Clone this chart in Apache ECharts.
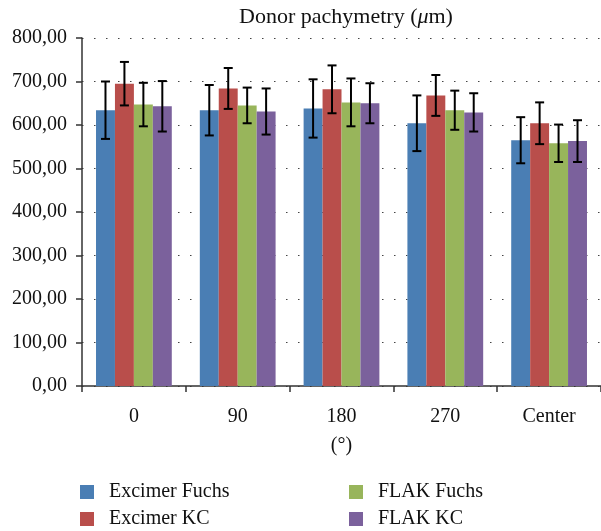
<!DOCTYPE html>
<html><head><meta charset="utf-8">
<script src="https://cdn.jsdelivr.net/npm/echarts@6/dist/echarts.min.js"></script>
<style>html,body{margin:0;padding:0;background:#fff}#c{width:601px;height:531px}</style>
</head><body><div id="c"></div>
<script>
var categories = ['0', '90', '180', '270', 'Center'];
var seriesNames = ['Excimer Fuchs', 'Excimer KC', 'FLAK Fuchs', 'FLAK KC'];
var excimerFuchs = [634, 634, 638, 604, 565];
var excimerKC = [695, 684, 682, 668, 604];
var flakFuchs = [647, 645, 652, 634, 558];
var flakKC = [643, 631, 650, 629, 563];
var excimerFuchsSD = [66, 58, 67, 64, 53];
var excimerKCSD = [50, 47, 55, 47, 48];
var flakFuchsSD = [50, 41, 55, 45, 43];
var flakKCSD = [58, 53, 46, 44, 48];
var yTicks = [0, 100, 200, 300, 400, 500, 600, 700, 800];

var means = [excimerFuchs, excimerKC, flakFuchs, flakKC];
var sds = [excimerFuchsSD, excimerKCSD, flakFuchsSD, flakKCSD];
var colors = ['#4A7EB4', '#B94E4B', '#98B55B', '#7B619C'];
var gapFrac = 0.27;
var font = 'Liberation Serif';

var series = [];
means.forEach(function (m, i) {
  series.push({
    name: seriesNames[i], type: 'bar', data: m, barGap: '0%', barCategoryGap: '27%',
    itemStyle: { color: colors[i] }, emphasis: { disabled: true }, z: 2
  });
});
means.forEach(function (m, i) {
  var d = m.map(function (v, k) { return [k, v - sds[i][k], v + sds[i][k]]; });
  series.push({
    type: 'custom', name: seriesNames[i] + ' err', data: d, z: 5, silent: true,
    encode: { x: 0, y: [1, 2] },
    renderItem: function (params, api) {
      var band = api.size([1, 0])[0];
      var bw = band * (1 - gapFrac) / 4;
      var off = (i - 1.5) * bw;
      var lo = api.coord([api.value(0), api.value(1)]);
      var hi = api.coord([api.value(0), api.value(2)]);
      var x = lo[0] + off;
      var cap = 4.5;
      var st = { stroke: '#000', lineWidth: 2 };
      return { type: 'group', children: [
        { type: 'line', shape: { x1: x, y1: lo[1], x2: x, y2: hi[1] }, style: st },
        { type: 'line', shape: { x1: x - cap, y1: lo[1], x2: x + cap, y2: lo[1] }, style: st },
        { type: 'line', shape: { x1: x - cap, y1: hi[1], x2: x + cap, y2: hi[1] }, style: st }
      ]};
    }
  });
});

var legendPos = [[80, 482], [80, 509], [349, 482], [349, 509]];
var legends = seriesNames.map(function (n, i) {
  return { data: [n], orient: 'horizontal', left: legendPos[i][0], top: legendPos[i][1],
    itemWidth: 14, itemHeight: 14, selectedMode: false, padding: 0, icon: 'rect',
    textStyle: { fontFamily: font, fontSize: 20, color: '#111', padding: [0, 0, 0, 10] } };
});

var chart = echarts.init(document.getElementById('c'), null, { renderer: 'canvas' });
chart.setOption({
  animation: false,
  textStyle: { fontFamily: font },
  title: { text: 'Donor pachymetry ({i|\u03bc}m)', left: 341, textAlign: 'center', top: 1,
    textStyle: { fontFamily: font, fontSize: 22, fontWeight: 'normal', color: '#111',
      rich: { i: { fontFamily: font, fontSize: 22, fontStyle: 'italic', color: '#111' } } } },
  legend: legends,
  grid: { left: 82, right: -1, top: 38, bottom: 145, containLabel: false },
  xAxis: {
    type: 'category', data: categories, name: '(\u00b0)', nameLocation: 'middle', nameGap: 50,
    nameTextStyle: { fontFamily: font, fontSize: 20, color: '#111' },
    axisLine: { lineStyle: { color: '#333', width: 1.5 } },
    axisTick: { show: true, length: 6, lineStyle: { color: '#333', width: 1.5 } },
    axisLabel: { fontFamily: font, fontSize: 20, color: '#111', margin: 21 }
  },
  yAxis: {
    type: 'value', min: yTicks[0], max: yTicks[yTicks.length - 1], interval: 100,
    axisLine: { show: true, lineStyle: { color: '#333', width: 1.5 } },
    axisTick: { show: true, length: 6, lineStyle: { color: '#333', width: 1.5 } },
    axisLabel: { fontFamily: font, fontSize: 20, color: '#111', margin: 15,
      formatter: function (v) { return v.toFixed(2).replace('.', ','); } },
    splitLine: { show: true, lineStyle: { color: '#444', width: 1.2, type: [1.5, 10.5] } }
  },
  series: series
});
</script></body></html>
